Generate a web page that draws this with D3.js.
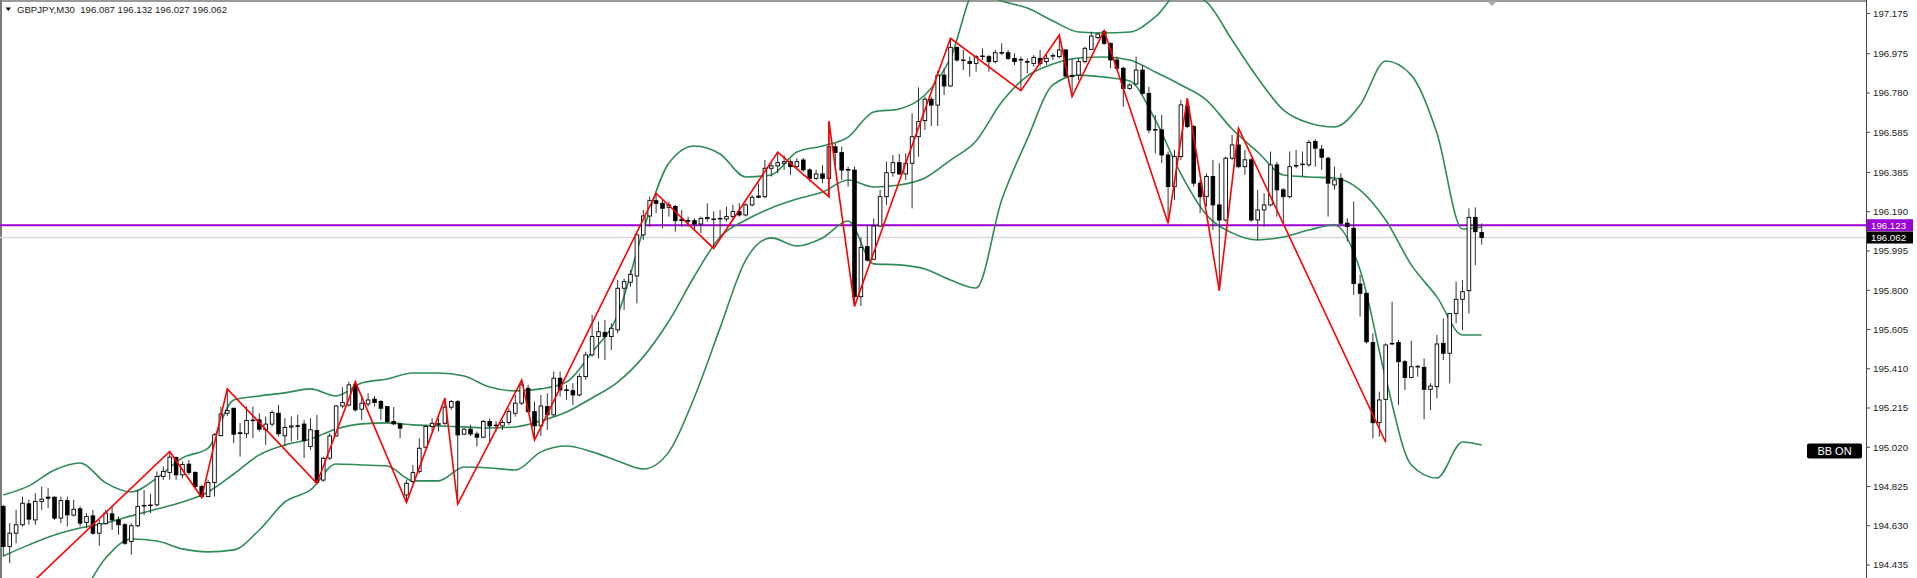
<!DOCTYPE html>
<html><head><meta charset="utf-8">
<script src="https://cdn.jsdelivr.net/npm/d3@7"></script>
<style>
html,body{margin:0;padding:0;background:#fff;overflow:hidden}
svg{display:block}
text{font-family:"Liberation Sans",Arial,sans-serif}
</style></head>
<body>
<svg id="c" width="1917" height="578"></svg>
<script>
// ---------------- DATA ----------------
const symbolTitle = "GBPJPY,M30";
const lastOHLC = ["196.087","196.132","196.027","196.062"];
const priceTicks = ["197.175","196.975","196.780","196.585","196.385","196.190","195.995","195.800","195.605","195.410","195.215","195.020","194.825","194.630","194.435"];
const levelLine = 196.123;   // purple horizontal line
const bidLine = 196.062;     // bid line
const indicatorLabel = "BB ON";

const open = [194.726,194.527,194.593,194.635,194.739,194.659,194.751,194.772,194.772,194.668,194.755,194.683,194.714,194.646,194.679,194.593,194.640,194.689,194.659,194.635,
194.552,194.630,194.728,194.733,194.734,194.875,194.895,194.969,194.883,194.936,194.895,194.825,194.775,194.845,195.078,195.189,195.214,195.092,195.087,195.152,
195.156,195.107,195.135,195.189,195.077,195.120,195.127,195.135,195.024,195.103,194.857,194.966,195.076,195.225,195.230,195.330,195.209,195.235,195.259,195.247,
195.222,195.148,195.136,194.783,194.850,194.900,195.020,195.123,195.137,195.139,195.219,195.247,195.085,195.110,195.086,195.070,195.148,195.130,195.126,195.143,
195.189,195.239,195.313,195.197,195.126,195.222,195.181,195.363,195.305,195.301,195.280,195.371,195.479,195.570,195.591,195.570,195.603,195.810,195.840,195.871,
196.075,196.169,196.245,196.232,196.212,196.216,196.153,196.146,196.146,196.129,196.156,196.154,196.155,196.154,196.166,196.191,196.174,196.224,196.268,196.265,
196.406,196.418,196.431,196.439,196.414,196.447,196.398,196.356,196.378,196.356,196.513,196.484,196.400,196.397,195.768,196.017,195.954,196.119,196.265,196.384,
196.434,196.378,196.431,196.563,196.643,196.749,196.720,196.869,196.815,197.007,196.944,196.936,196.927,196.961,196.961,196.936,196.979,196.980,196.952,196.947,
196.936,196.927,196.952,196.936,196.963,196.961,196.994,196.866,196.869,196.936,196.997,197.056,197.085,197.027,196.944,196.903,196.803,196.825,196.894,196.778,
196.599,196.597,196.472,196.315,196.464,196.713,196.613,196.332,196.265,196.365,196.224,196.149,196.456,196.522,196.414,196.448,196.149,196.199,196.224,196.423,
196.299,196.265,196.417,196.424,196.423,196.539,196.501,196.456,196.323,196.356,196.133,196.108,195.831,195.785,195.540,195.142,195.258,195.533,195.540,195.445,
195.367,195.420,195.417,195.308,195.321,195.536,195.487,195.685,195.755,195.798,196.162,196.087];
const high = [194.734,194.643,194.709,194.775,194.759,194.792,194.825,194.817,194.775,194.775,194.775,194.759,194.726,194.693,194.709,194.659,194.709,194.726,194.676,194.643,
194.643,194.808,194.808,194.789,194.900,194.924,194.999,194.974,194.949,194.957,194.900,194.833,194.858,195.090,195.222,195.310,195.214,195.140,195.222,195.222,
195.189,195.173,195.203,195.231,195.164,195.173,195.181,195.156,195.164,195.181,194.973,195.090,195.230,195.318,195.346,195.346,195.280,195.288,195.275,195.255,
195.222,195.219,195.139,194.858,194.932,195.065,195.131,195.164,195.164,195.264,195.255,195.255,195.115,195.131,195.098,195.156,195.164,195.148,195.156,195.214,
195.280,195.354,195.330,195.247,195.280,195.288,195.396,195.396,195.330,195.338,195.388,195.495,195.677,195.644,195.652,195.636,195.851,195.859,195.901,196.083,
196.199,196.265,196.282,196.249,196.240,196.224,196.199,196.166,196.157,196.166,196.232,196.191,196.199,196.215,196.224,196.232,196.232,196.273,196.331,196.447,
196.431,196.486,196.470,196.451,196.456,196.456,196.406,196.398,196.422,196.640,196.530,196.513,196.414,196.414,196.063,196.124,196.157,196.298,196.439,196.472,
196.477,196.480,196.679,196.808,196.762,196.762,196.891,196.903,197.052,197.010,196.994,196.961,196.969,197.002,196.969,196.994,197.027,196.994,196.977,196.961,
196.952,196.969,196.994,196.969,196.977,197.068,196.997,196.952,196.952,197.010,197.085,197.076,197.090,197.030,196.961,196.911,196.828,196.961,196.919,196.811,
196.671,196.671,196.489,196.497,196.746,196.754,196.621,196.348,196.381,196.448,196.431,196.464,196.572,196.605,196.497,196.456,196.299,196.282,196.489,196.439,
196.307,196.489,196.497,196.489,196.547,196.550,196.522,196.464,196.414,196.381,196.158,196.241,195.876,195.785,195.586,195.296,195.536,195.743,195.553,195.453,
195.549,195.429,195.462,195.338,195.578,195.660,195.685,195.843,195.851,196.207,196.212,196.132];
const low = [194.477,194.444,194.543,194.626,194.635,194.635,194.709,194.717,194.659,194.643,194.626,194.676,194.626,194.618,194.585,194.530,194.635,194.610,194.585,194.535,
194.486,194.623,194.684,194.693,194.726,194.858,194.858,194.858,194.866,194.883,194.817,194.770,194.772,194.775,195.073,195.176,195.040,194.974,195.065,195.065,
195.098,195.032,195.123,195.073,195.024,195.049,195.057,194.966,195.007,194.841,194.849,194.957,195.073,195.214,195.222,195.197,195.156,195.222,195.222,195.156,
195.139,195.131,195.065,194.745,194.841,194.890,195.015,195.098,195.098,195.131,195.206,194.738,195.081,195.076,195.023,195.065,195.040,195.098,195.106,195.131,
195.172,195.230,195.189,195.056,195.076,195.106,195.172,195.272,195.255,195.230,195.272,195.355,195.470,195.462,195.454,195.503,195.586,195.702,195.818,195.735,
196.050,196.116,196.182,196.108,196.166,196.091,196.116,196.116,196.100,196.083,196.141,196.008,196.058,196.141,196.149,196.166,196.166,196.216,196.257,196.257,
196.365,196.381,196.398,196.373,196.406,196.389,196.340,196.348,196.331,196.265,196.397,196.348,196.315,195.720,195.722,195.942,195.950,196.116,196.224,196.364,
196.373,196.348,196.207,196.464,196.596,196.616,196.616,196.770,196.811,196.936,196.894,196.861,196.886,196.944,196.886,196.927,196.969,196.944,196.919,196.792,
196.878,196.911,196.911,196.919,196.944,196.952,196.858,196.762,196.845,196.927,196.994,197.047,197.018,196.903,196.894,196.712,196.795,196.820,196.770,196.580,
196.480,196.431,196.133,196.249,196.448,196.605,196.315,196.183,196.216,196.100,195.798,196.141,196.448,196.406,196.373,196.141,196.050,196.116,196.216,196.166,
196.133,196.257,196.406,196.365,196.414,196.414,196.398,196.166,196.299,196.125,196.042,195.777,195.669,195.536,195.064,195.073,195.045,195.528,195.230,195.304,
195.362,195.371,195.159,195.205,195.263,195.453,195.337,195.636,195.602,195.685,195.925,196.027];
const close = [194.527,194.593,194.635,194.742,194.663,194.751,194.762,194.767,194.668,194.755,194.684,194.712,194.643,194.676,194.593,194.640,194.693,194.659,194.635,194.543,
194.630,194.726,194.731,194.731,194.875,194.900,194.971,194.883,194.934,194.895,194.825,194.775,194.845,195.082,195.186,195.203,195.085,195.088,195.153,195.155,
195.110,195.135,195.193,195.087,195.118,195.126,195.125,195.053,195.107,194.845,194.965,195.076,195.225,195.242,195.330,195.206,195.239,195.255,195.242,195.214,
195.148,195.136,195.115,194.841,194.894,195.015,195.123,195.139,195.135,195.219,195.247,195.081,195.110,195.086,195.070,195.148,195.126,195.127,195.143,195.197,
195.239,195.330,195.197,195.126,195.225,195.181,195.363,195.305,195.302,195.280,195.371,195.479,195.570,195.594,195.570,195.611,195.810,195.843,195.879,196.075,
196.169,196.245,196.232,196.207,196.224,196.146,196.146,196.143,196.129,196.157,196.162,196.152,196.157,196.166,196.191,196.174,196.224,196.262,196.262,196.406,
196.418,196.434,196.439,196.414,196.439,196.398,196.356,196.378,196.356,196.513,196.484,196.397,196.397,195.768,196.013,195.950,196.119,196.265,196.384,196.434,
196.378,196.431,196.563,196.638,196.749,196.720,196.869,196.815,197.007,196.944,196.941,196.927,196.961,196.964,196.936,196.980,196.981,196.952,196.936,196.944,
196.934,196.957,196.927,196.952,196.966,196.994,196.864,196.864,196.936,197.002,197.063,197.073,197.027,196.944,196.903,196.803,196.820,196.894,196.778,196.596,
196.596,196.472,196.315,196.464,196.721,196.613,196.332,196.265,196.365,196.224,196.149,196.456,196.522,196.414,196.448,196.149,196.199,196.224,196.423,196.299,
196.265,196.414,196.420,196.427,196.534,196.506,196.461,196.332,196.348,196.133,196.116,195.833,195.785,195.544,195.142,195.255,195.528,195.536,195.445,195.367,
195.420,195.422,195.308,195.324,195.533,195.487,195.685,195.755,195.793,196.162,196.091,196.062];

// Bollinger band readings at every 4th bar
const bbIndex = [0,4,8,12,16,20,24,28,32,36,40,44,48,52,56,60,64,68,72,76,80,84,88,92,96,100,104,108,112,116,120,124,128,132,136,140,144,148,152,156,160,164,168,172,176,180,184,188,192,196,200,204,208,212,216,220,224,228,231];
const bbUpper = [194.783,194.828,194.907,194.942,194.843,194.798,194.867,194.967,195.016,195.255,195.275,195.290,195.310,195.275,195.339,195.359,195.389,195.389,195.374,195.319,195.300,195.310,195.344,195.493,195.677,196.099,196.432,196.517,196.477,196.363,196.373,196.487,196.517,196.561,196.686,196.701,196.770,196.954,197.292,197.237,197.202,197.138,197.083,197.078,197.083,197.158,197.282,197.232,197.043,196.855,196.696,196.631,196.611,196.720,196.939,196.869,196.581,196.104,196.114];
const bbMiddle = [194.480,194.535,194.584,194.619,194.644,194.679,194.713,194.748,194.798,194.887,194.982,195.031,195.061,195.111,195.136,195.141,195.131,195.126,195.121,195.116,195.121,195.151,195.195,195.265,195.344,195.469,195.647,195.871,196.065,196.149,196.209,196.253,196.288,196.348,196.313,196.323,196.358,196.447,196.542,196.735,196.864,196.924,196.954,196.959,196.944,196.884,196.820,196.745,196.601,196.487,196.373,196.363,196.358,196.298,196.149,195.926,195.767,195.578,195.578];
const bbLower = [194.177,194.241,194.261,194.296,194.470,194.564,194.554,194.515,194.500,194.510,194.609,194.748,194.808,194.937,194.932,194.927,194.853,194.853,194.922,194.917,194.907,194.997,195.026,194.997,194.952,194.912,194.997,195.270,195.613,195.950,196.060,196.020,196.060,196.144,195.931,195.926,195.906,195.851,195.811,196.248,196.551,196.820,196.869,196.859,196.840,196.646,196.378,196.174,196.085,196.050,196.065,196.099,196.124,195.901,195.364,194.932,194.867,195.046,195.031];

// ZigZag turning points: bar index and price
const zzIndex = [-3,26,31,35,49,55,63,69,71,81,83,102,111,121,129,129,133,148,159,165,167,172,182,185,190,193,216];
const zzPrice = [194.120,194.999,194.770,195.310,194.841,195.346,194.745,195.264,194.738,195.354,195.056,196.282,196.008,196.486,196.265,196.640,195.720,197.052,196.792,197.068,196.762,197.090,196.133,196.754,195.798,196.605,195.045];

// ---------------- CHART ----------------
const W = 1917, H = 578;
const plotRight = 1866;
const svg = d3.select("#c");

const n = close.length;
const x = d3.scaleLinear().domain([0, n - 1]).range([3.3, 3.3 + 6.4 * (n - 1)]);
const y = d3.scaleLinear().domain([194.435, 197.175]).range([565, 13.5]);

svg.append("defs").append("clipPath").attr("id","plot")
  .append("rect").attr("x",0).attr("y",0).attr("width",plotRight).attr("height",H);

// frame
svg.append("rect").attr("x",0).attr("y",0).attr("width",W).attr("height",H).attr("fill","#fff");
svg.append("line").attr("x1",0).attr("x2",plotRight).attr("y1",1).attr("y2",1).attr("stroke","#9a9a9a").attr("stroke-width",2);
svg.append("line").attr("x1",1).attr("x2",1).attr("y1",0).attr("y2",H).attr("stroke","#7a7a7a").attr("stroke-width",2);
svg.append("line").attr("x1",plotRight+0.5).attr("x2",plotRight+0.5).attr("y1",0).attr("y2",H).attr("stroke","#444").attr("stroke-width",1);

const g = svg.append("g").attr("clip-path","url(#plot)");

// horizontal level lines
g.append("line").attr("x1",0).attr("x2",plotRight).attr("y1",y(bidLine)).attr("y2",y(bidLine))
  .attr("stroke","#d8d8d8").attr("stroke-width",1.5);
g.append("line").attr("x1",0).attr("x2",plotRight).attr("y1",y(levelLine)).attr("y2",y(levelLine))
  .attr("stroke","#9b00d6").attr("stroke-width",2.2);

// Bollinger bands
const bbLine = (arr) => d3.line().x((d,i)=>x(bbIndex[i])).y(d=>y(d)).curve(d3.curveMonotoneX)(arr);
[bbUpper,bbMiddle,bbLower].forEach(arr=>{
  g.append("path").attr("d",bbLine(arr)).attr("fill","none").attr("stroke","#2e8b57").attr("stroke-width",1.6);
});

// candles
const cg = g.append("g");
d3.range(n).forEach(i=>{
  const cx = x(i);
  cg.append("line").attr("x1",cx).attr("x2",cx).attr("y1",y(high[i])).attr("y2",y(low[i]))
    .attr("stroke","#333").attr("stroke-width",1);
  const top = y(Math.max(open[i],close[i])), bot = y(Math.min(open[i],close[i]));
  const bull = close[i] >= open[i];
  cg.append("rect").attr("x",cx-1.8).attr("width",3.6)
    .attr("y",top).attr("height",Math.max(0.6,bot-top))
    .attr("fill",bull?"#fff":"#000").attr("stroke","#000").attr("stroke-width",0.9);
});

// zigzag
g.append("path")
  .attr("d", d3.line().x((d,i)=>x(zzIndex[i])).y(d=>y(d))(zzPrice))
  .attr("fill","none").attr("stroke","#ff0000").attr("stroke-width",1.6);

// price axis ticks & labels
const ax = svg.append("g");
priceTicks.forEach(t=>{
  const v = +t;
  ax.append("line").attr("x1",plotRight).attr("x2",plotRight+4).attr("y1",y(v)).attr("y2",y(v)).attr("stroke","#444");
  ax.append("text").attr("x",1873).attr("y",y(v)).attr("dy","0.35em").attr("font-size",9.7).attr("fill","#222").text(t);
});

// price tags
function tag(v, bg){
  const yy = y(v);
  ax.append("rect").attr("x",plotRight+1).attr("y",yy-6).attr("width",46).attr("height",12).attr("fill",bg);
  ax.append("text").attr("x",1871).attr("y",yy).attr("dy","0.36em").attr("font-size",9.7).attr("fill","#fff").text(v.toFixed(3));
}
tag(levelLine,"#9b00d6");
tag(bidLine,"#000");

// shift marker
svg.append("path").attr("d","M1487,1 L1497,1 L1492,6 Z").attr("fill","#a8a8a8");

// title
svg.append("path").attr("d","M5.5,7.5 L11,7.5 L8.25,11 Z").attr("fill","#000");
svg.append("text").attr("x",17).attr("y",12.6).attr("font-size",9.6).attr("fill","#222")
  .attr("xml:space","preserve")
  .text(symbolTitle + "  " + lastOHLC.join(" "));

// indicator label
const lb = svg.append("g");
lb.append("rect").attr("x",1807).attr("y",443.5).attr("width",55).attr("height",15).attr("rx",2).attr("fill","#000");
lb.append("text").attr("x",1834.5).attr("y",451).attr("dy","0.36em").attr("text-anchor","middle")
  .attr("font-size",11).attr("fill","#fff").text(indicatorLabel);
</script>
</body></html>
